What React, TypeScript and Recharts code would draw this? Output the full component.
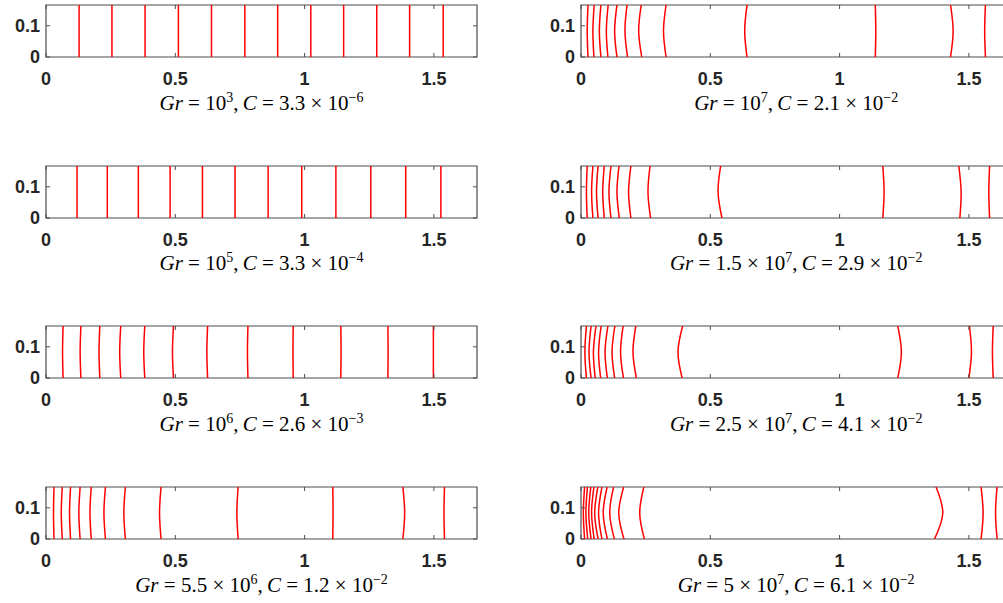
import React from 'react';
import { LineChart, Line, XAxis, YAxis, ReferenceArea } from 'recharts';

const xTicks = [0, 0.5, 1, 1.5];
const yTicks = [0, 0.1];
// heights where each contour is sampled: bottom, middle, top of the channel
const yLevels = [0, 1 / 12, 1 / 6];

// each contour: x at the bottom, x at the middle, x at the top
const gr1e3 = [
  [0.128, 0.128, 0.128], [0.255, 0.255, 0.255], [0.383, 0.383, 0.383], [0.512, 0.512, 0.512],
  [0.64, 0.64, 0.64], [0.769, 0.769, 0.769], [0.896, 0.896, 0.896], [1.024, 1.024, 1.024],
  [1.151, 1.151, 1.151], [1.279, 1.279, 1.279], [1.406, 1.406, 1.406], [1.536, 1.536, 1.536],
];
const gr1e5 = [
  [0.12, 0.12, 0.12], [0.237, 0.237, 0.237], [0.357, 0.357, 0.357], [0.48, 0.48, 0.48],
  [0.605, 0.605, 0.605], [0.731, 0.731, 0.731], [0.859, 0.859, 0.859], [0.989, 0.989, 0.989],
  [1.121, 1.121, 1.121], [1.256, 1.256, 1.256], [1.391, 1.391, 1.391], [1.527, 1.527, 1.527],
];
const gr1e6 = [
  [0.066, 0.064, 0.066], [0.135, 0.132, 0.135], [0.208, 0.205, 0.208], [0.289, 0.285, 0.289],
  [0.382, 0.378, 0.382], [0.493, 0.489, 0.493], [0.625, 0.622, 0.625], [0.781, 0.779, 0.781],
  [0.956, 0.955, 0.956], [1.14, 1.141, 1.14], [1.322, 1.323, 1.322], [1.498, 1.498, 1.498],
];
const gr55e5 = [
  [0.031, 0.029, 0.031], [0.063, 0.059, 0.063], [0.095, 0.091, 0.095], [0.132, 0.127, 0.132],
  [0.175, 0.17, 0.175], [0.23, 0.224, 0.23], [0.307, 0.301, 0.307], [0.445, 0.439, 0.445],
  [0.743, 0.738, 0.743], [1.109, 1.11, 1.109], [1.38, 1.387, 1.38], [1.541, 1.539, 1.541],
];
const gr1e7 = [
  [0.027, 0.024, 0.027], [0.05, 0.046, 0.051], [0.077, 0.071, 0.077], [0.104, 0.098, 0.105],
  [0.139, 0.13, 0.139], [0.18, 0.17, 0.178], [0.235, 0.223, 0.233], [0.329, 0.319, 0.329],
  [0.642, 0.633, 0.642], [1.138, 1.14, 1.138], [1.429, 1.439, 1.429], [1.564, 1.561, 1.564],
];
const gr15e6 = [
  [0.024, 0.021, 0.024], [0.046, 0.041, 0.046], [0.066, 0.06, 0.066], [0.09, 0.084, 0.09],
  [0.116, 0.108, 0.116], [0.148, 0.139, 0.147], [0.193, 0.184, 0.193], [0.269, 0.259, 0.267],
  [0.545, 0.53, 0.54], [1.167, 1.172, 1.167], [1.465, 1.47, 1.461], [1.58, 1.577, 1.58],
];
const gr25e6 = [
  [0.021, 0.015, 0.021], [0.039, 0.031, 0.039], [0.055, 0.048, 0.058], [0.076, 0.068, 0.078],
  [0.102, 0.093, 0.104], [0.13, 0.12, 0.131], [0.164, 0.153, 0.163], [0.214, 0.201, 0.212],
  [0.391, 0.375, 0.393], [1.225, 1.239, 1.225], [1.5, 1.51, 1.502], [1.594, 1.591, 1.594],
];
const gr5e7 = [
  [0.014, 0.009, 0.014], [0.026, 0.019, 0.025], [0.039, 0.03, 0.038], [0.051, 0.041, 0.05],
  [0.066, 0.053, 0.065], [0.081, 0.068, 0.081], [0.102, 0.086, 0.101], [0.129, 0.111, 0.126],
  [0.166, 0.146, 0.165], [0.245, 0.227, 0.243], [1.367, 1.399, 1.373], [1.547, 1.555, 1.547],
  [1.609, 1.603, 1.609],
];

const grMantissa = ['', '', '', '5.5', '', '1.5', '2.5', '5'];
const grExponent = ['3', '5', '6', '6', '7', '7', '7', '7'];
const cMantissa = ['3.3', '3.3', '2.6', '1.2', '2.1', '2.9', '4.1', '6.1'];
const cExponent = ['−6', '−4', '−3', '−2', '−2', '−2', '−2', '−2'];

const allContours = [gr1e3, gr1e5, gr1e6, gr55e5, gr1e7, gr15e6, gr25e6, gr5e7];

const rowTops = [5, 165.7, 326, 487.3];
const colLefts = [46, 580.7];
const PLOT_W = 431;
const PLOT_H = 52;
const AXIS_W = 46;
const TOP = 5;
const BOTTOM = TOP + PLOT_H;
const TICK = 4;
const frame = '#4d4d4d';
const labelFont = {
  fill: '#262626',
  fontSize: 18,
  fontWeight: 700,
  fontFamily: '"Liberation Sans", Arial, sans-serif',
};

// matlab style: ticks point inward, on both the bottom and the top edge
const XTick = (props: any) => {
  const { x, payload } = props;
  return (
    <g>
      <line x1={x} x2={x} y1={BOTTOM} y2={BOTTOM - TICK} stroke={frame} />
      <line x1={x} x2={x} y1={TOP} y2={TOP + TICK} stroke={frame} />
      <text x={x} y={BOTTOM + 27.5} textAnchor="middle" {...labelFont}>
        {payload.value}
      </text>
    </g>
  );
};

const YTick = (props: any) => {
  const { y, payload } = props;
  return (
    <g>
      <line x1={AXIS_W} x2={AXIS_W + TICK} y1={y} y2={y} stroke={frame} />
      <line x1={AXIS_W + PLOT_W} x2={AXIS_W + PLOT_W - TICK} y1={y} y2={y} stroke={frame} />
      <text x={AXIS_W - 6} y={y} dy="0.36em" textAnchor="end" {...labelFont}>
        {payload.value}
      </text>
    </g>
  );
};

const Caption: React.FC<{ i: number }> = ({ i }) => (
  <>
    <i>Gr</i> = {grMantissa[i] ? `${grMantissa[i]} × ` : ''}10
    <sup style={{ fontSize: 14, lineHeight: 0 }}>{grExponent[i]}</sup>,&thinsp;<i>C</i> = {cMantissa[i]} × 10
    <sup style={{ fontSize: 14, lineHeight: 0 }}>{cExponent[i]}</sup>
  </>
);

const Panel: React.FC<{ i: number }> = ({ i }) => {
  const col = i < 4 ? 0 : 1;
  const row = i % 4;
  const left = colLefts[col];
  const top = rowTops[row];
  return (
    <>
      <div style={{ position: 'absolute', left: left - AXIS_W, top: top - TOP }}>
        <LineChart
          width={AXIS_W + PLOT_W + 10}
          height={TOP + PLOT_H + 32}
          layout="vertical"
          margin={{ top: TOP, right: 10, left: 0, bottom: 0 }}
        >
          <ReferenceArea
            x1={0}
            x2={5 / 3}
            y1={0}
            y2={1 / 6}
            fill="#fff"
            fillOpacity={0}
            stroke={frame}
            strokeWidth={1.2}
            ifOverflow="visible"
          />
          <XAxis
            type="number"
            dataKey="x"
            domain={[0, 5 / 3]}
            allowDataOverflow
            ticks={xTicks}
            interval={0}
            height={32}
            axisLine={false}
            tickLine={false}
            tick={<XTick />}
          />
          <YAxis
            type="number"
            dataKey="y"
            domain={[0, 1 / 6]}
            reversed
            allowDataOverflow
            ticks={yTicks}
            interval={0}
            width={AXIS_W}
            axisLine={false}
            tickLine={false}
            tick={<YTick />}
          />
          {allContours[i].map((c, k) => (
            <Line
              key={k}
              data={yLevels.map((y, j) => ({ y, x: c[j] }))}
              dataKey="x"
              type="natural"
              stroke="#ff0000"
              strokeWidth={1.5}
              dot={false}
              activeDot={false}
              isAnimationActive={false}
            />
          ))}
        </LineChart>
      </div>
      <div
        style={{
          position: 'absolute',
          left,
          top: top + 87.5,
          width: PLOT_W,
          textAlign: 'center',
          fontFamily: '"Liberation Serif", "Times New Roman", serif',
          fontSize: 21,
          lineHeight: '20px',
          color: '#000',
          whiteSpace: 'nowrap',
        }}
      >
        <Caption i={i} />
      </div>
    </>
  );
};

export default function App() {
  return (
    <div style={{ position: 'absolute', left: 0, top: 0, width: 1003, height: 603, overflow: 'hidden', background: '#fff' }}>
      {allContours.map((_, i) => (
        <Panel key={i} i={i} />
      ))}
    </div>
  );
}
